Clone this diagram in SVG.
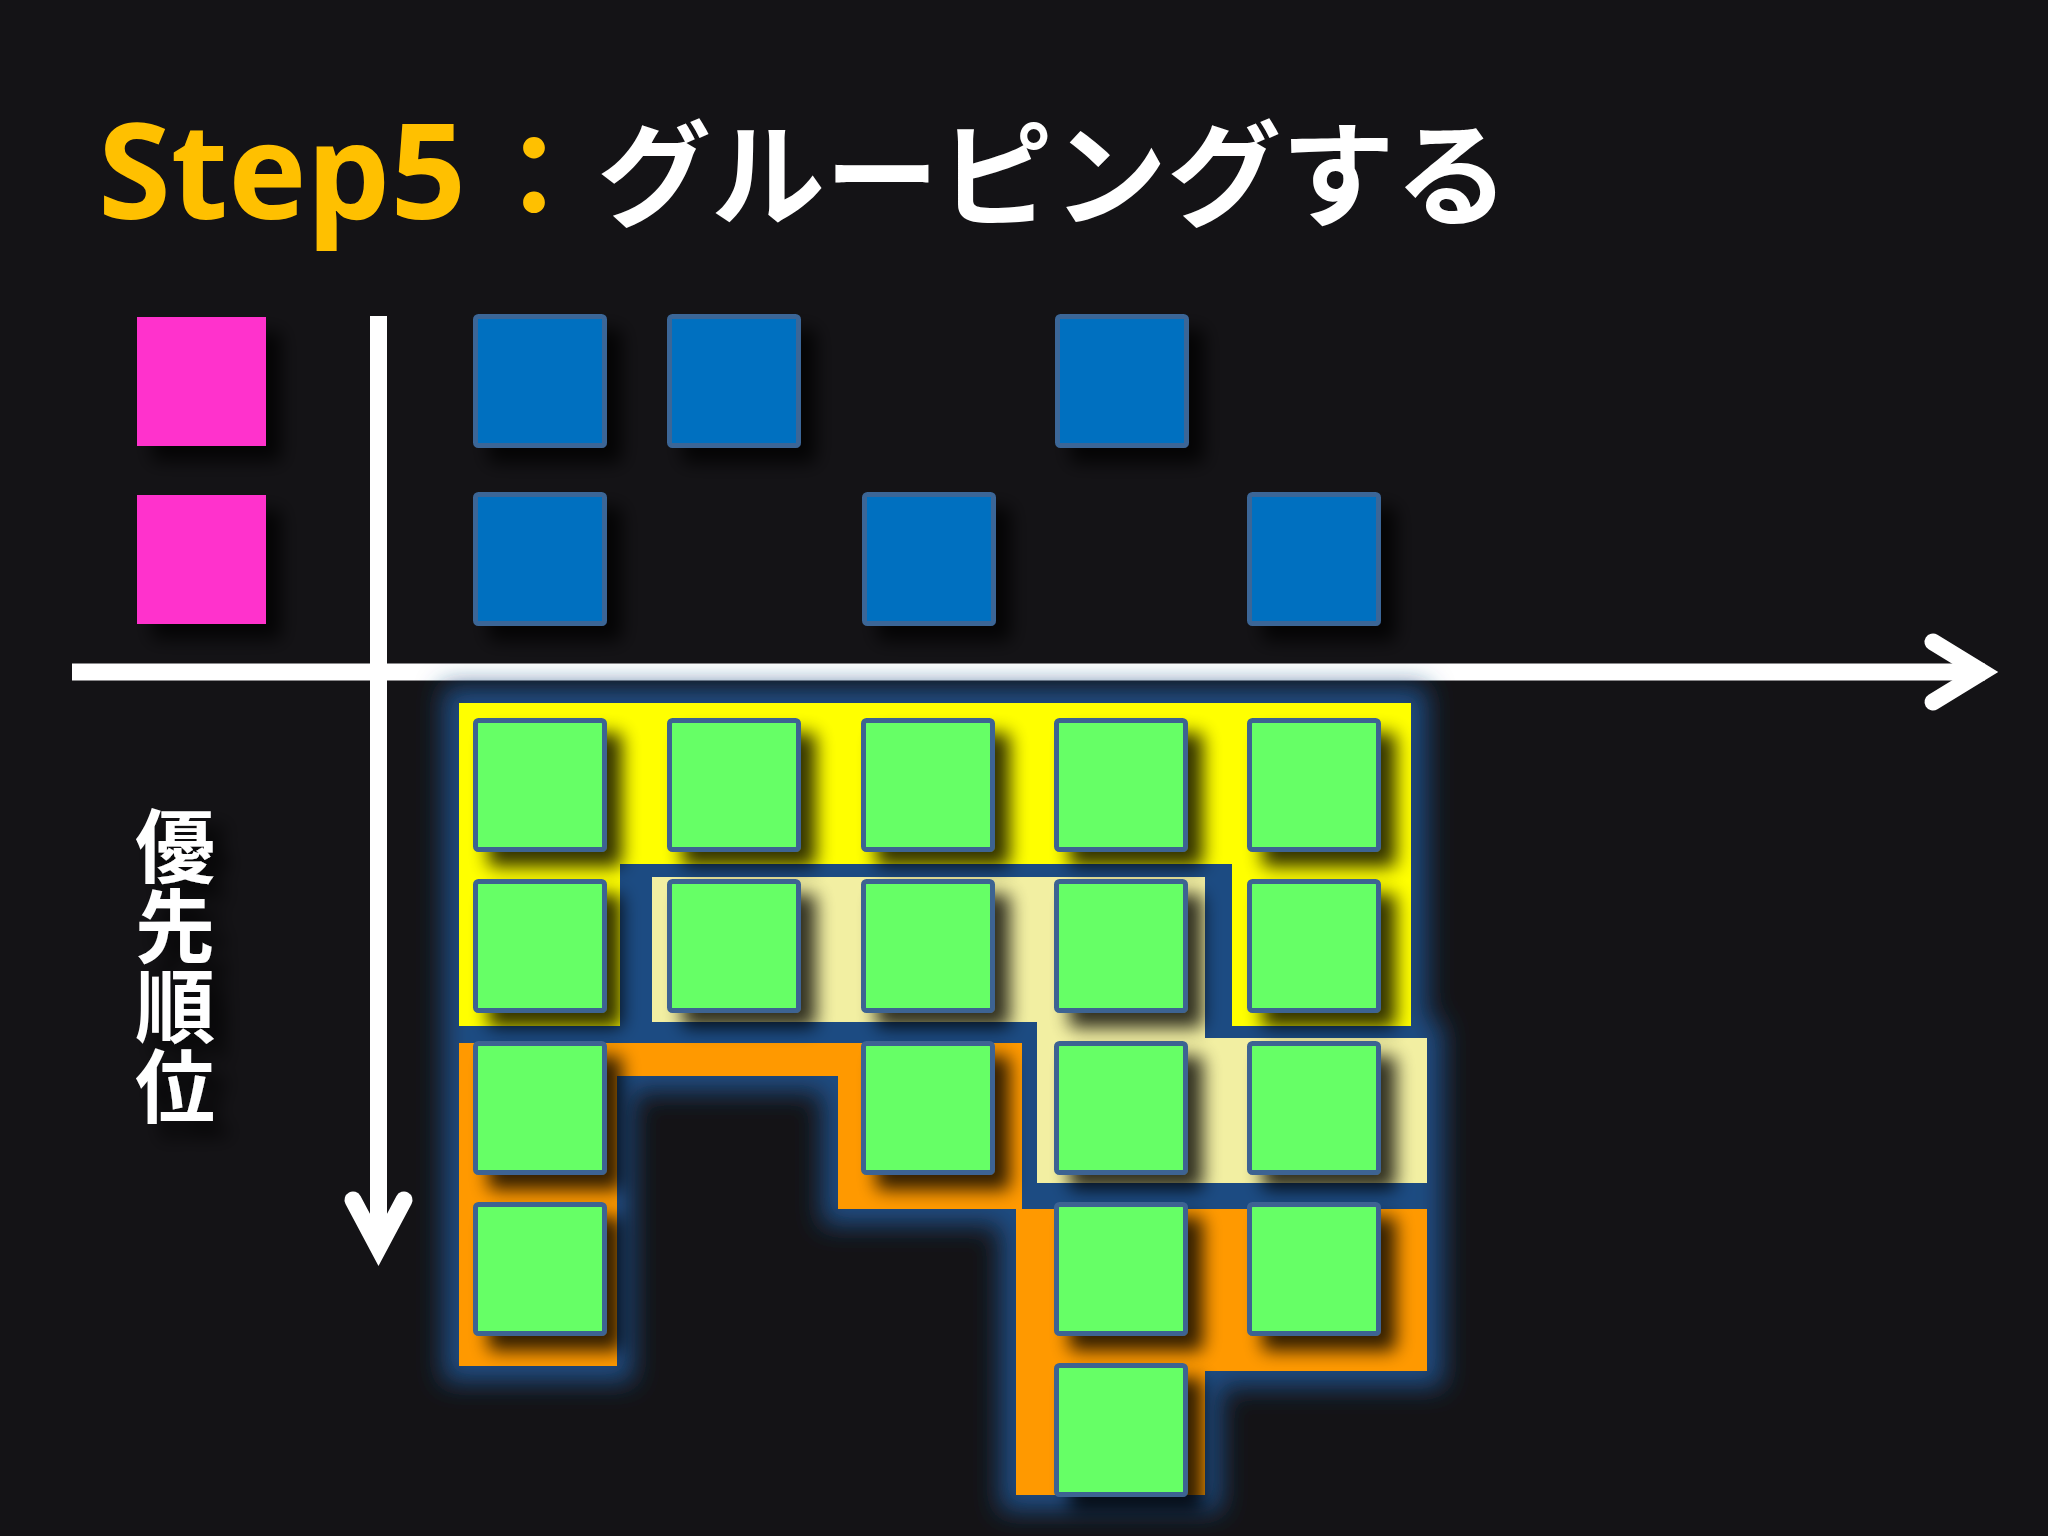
<svg xmlns="http://www.w3.org/2000/svg" width="2048" height="1536" viewBox="0 0 2048 1536">
  <defs>
    <filter id="glow" x="-10%" y="-10%" width="120%" height="120%">
      <feMorphology in="SourceAlpha" operator="dilate" radius="16" result="d"/>
      <feGaussianBlur in="d" stdDeviation="13" result="b"/>
      <feFlood flood-color="#1F4C82"/>
      <feComposite in2="b" operator="in" result="g"/>
      <feMerge><feMergeNode in="g"/><feMergeNode in="SourceGraphic"/></feMerge>
    </filter>
    <filter id="sh" x="-30%" y="-30%" width="170%" height="170%">
      <feGaussianBlur in="SourceAlpha" stdDeviation="9"/>
      <feOffset dx="15" dy="15"/>
      <feComponentTransfer><feFuncA type="linear" slope="0.8"/></feComponentTransfer>
      <feMerge><feMergeNode/><feMergeNode in="SourceGraphic"/></feMerge>
    </filter>
    <style>
      .bg { fill: #141316; }
      .axis { fill: none; stroke: #FFFFFF; stroke-width: 17; }
      .head { fill: none; stroke: #FFFFFF; stroke-width: 17; stroke-linecap: round; stroke-linejoin: miter; stroke-miterlimit: 10; }
      .pink { fill: #FF33CC; }
      .blue { fill: #0070C0; stroke: #3B6697; stroke-width: 5; }
      .green { fill: #66FF66; stroke: #3D6392; stroke-width: 5; }
      .yellow { fill: #FFFF00; }
      .lyellow { fill: #F2EFA2; }
      .orange { fill: #FF9900; }
      .title { font-family: "Noto Sans", "Noto Sans CJK JP", sans-serif; font-weight: bold; }
      .jp { font-family: "Noto Sans CJK JP", sans-serif; font-weight: bold; }
    </style>
  </defs>
  <rect class="bg" x="0" y="0" width="2048" height="1536"/>

  <g id="title">
    <text class="title" x="98" y="219" font-size="132" fill="#FFC000" textLength="368" lengthAdjust="spacingAndGlyphs">Step5</text>
    <text class="jp" x="477" y="217" font-size="114" fill="#FFC000">：</text>
    <text class="jp" x="597" y="217" font-size="114" fill="#FFFFFF">グルーピングする</text>
  </g>

  <g id="axes">
    <line class="axis" x1="72" y1="672" x2="1985" y2="672"/>
    <polyline class="head" points="1933,642 1982,672 1933,702"/>
    <line class="axis" x1="378.5" y1="316" x2="378.5" y2="1250"/>
    <polyline class="head" points="353,1200 378.5,1248 404,1200"/>
  </g>

  <g id="axis-label" filter="url(#sh)">
    <text class="jp" x="175" y="806" font-size="80" fill="#FFFFFF" writing-mode="vertical-rl">優先順位</text>
  </g>

  <g id="pink-nodes" filter="url(#sh)">
    <rect id="pink-1" class="pink" x="137" y="317" width="129" height="129"/>
    <rect id="pink-2" class="pink" x="137" y="495" width="129" height="129"/>
  </g>

  <g id="blue-nodes" filter="url(#sh)">
    <rect id="blue-r1c1" class="blue" x="475.5" y="316.5" width="129" height="129" rx="3"/>
    <rect id="blue-r1c2" class="blue" x="669.5" y="316.5" width="129" height="129" rx="3"/>
    <rect id="blue-r1c4" class="blue" x="1057.5" y="316.5" width="129" height="129" rx="3"/>
    <rect id="blue-r2c1" class="blue" x="475.5" y="494.5" width="129" height="129" rx="3"/>
    <rect id="blue-r2c3" class="blue" x="864.5" y="494.5" width="129" height="129" rx="3"/>
    <rect id="blue-r2c5" class="blue" x="1249.5" y="494.5" width="129" height="129" rx="3"/>
  </g>

  <g id="groups" filter="url(#glow)">
    <path id="group-yellow" class="yellow" d="M459,703 H1411 V1026 H1232 V864 H620 V1026 H459 Z"/>
    <path id="group-lightyellow" class="lyellow" d="M652,877 H1205 V1038 H1427 V1183 H1037 V1022 H652 Z"/>
    <path id="group-orange-a" class="orange" d="M459,1043 H1022 V1209 H838 V1076 H617 V1366 H459 Z"/>
    <path id="group-orange-b" class="orange" d="M1016,1209 H1427 V1371 H1205 V1495 H1016 Z"/>
  </g>

  <g id="green-nodes">
    <rect id="g-r1c1" class="green" filter="url(#sh)" x="475.5" y="720.5" width="129" height="129" rx="3"/>
    <rect id="g-r1c2" class="green" filter="url(#sh)" x="669.5" y="720.5" width="129" height="129" rx="3"/>
    <rect id="g-r1c3" class="green" filter="url(#sh)" x="863.5" y="720.5" width="129" height="129" rx="3"/>
    <rect id="g-r1c4" class="green" filter="url(#sh)" x="1056.5" y="720.5" width="129" height="129" rx="3"/>
    <rect id="g-r1c5" class="green" filter="url(#sh)" x="1249.5" y="720.5" width="129" height="129" rx="3"/>

    <rect id="g-r2c1" class="green" filter="url(#sh)" x="475.5" y="881.5" width="129" height="129" rx="3"/>
    <rect id="g-r2c2" class="green" filter="url(#sh)" x="669.5" y="881.5" width="129" height="129" rx="3"/>
    <rect id="g-r2c3" class="green" filter="url(#sh)" x="863.5" y="881.5" width="129" height="129" rx="3"/>
    <rect id="g-r2c4" class="green" filter="url(#sh)" x="1056.5" y="881.5" width="129" height="129" rx="3"/>
    <rect id="g-r2c5" class="green" filter="url(#sh)" x="1249.5" y="881.5" width="129" height="129" rx="3"/>

    <rect id="g-r3c1" class="green" filter="url(#sh)" x="475.5" y="1043.5" width="129" height="129" rx="3"/>
    <rect id="g-r3c3" class="green" filter="url(#sh)" x="863.5" y="1043.5" width="129" height="129" rx="3"/>
    <rect id="g-r3c4" class="green" filter="url(#sh)" x="1056.5" y="1043.5" width="129" height="129" rx="3"/>
    <rect id="g-r3c5" class="green" filter="url(#sh)" x="1249.5" y="1043.5" width="129" height="129" rx="3"/>

    <rect id="g-r4c1" class="green" filter="url(#sh)" x="475.5" y="1204.5" width="129" height="129" rx="3"/>
    <rect id="g-r4c4" class="green" filter="url(#sh)" x="1056.5" y="1204.5" width="129" height="129" rx="3"/>
    <rect id="g-r4c5" class="green" filter="url(#sh)" x="1249.5" y="1204.5" width="129" height="129" rx="3"/>

    <rect id="g-r5c4" class="green" filter="url(#sh)" x="1056.5" y="1365.5" width="129" height="129" rx="3"/>
  </g>
</svg>
